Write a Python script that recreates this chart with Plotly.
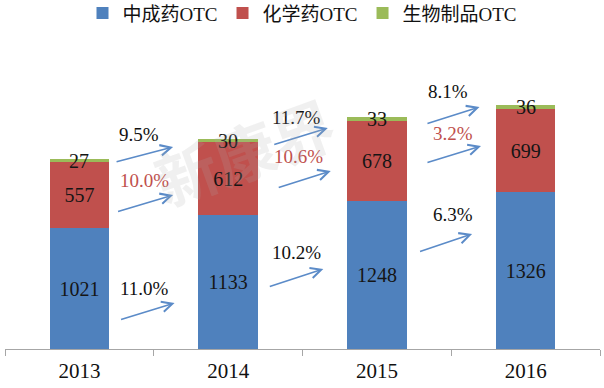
import plotly.graph_objects as go

years = ["2013", "2014", "2015", "2016"]
tcm_otc = [1021, 1133, 1248, 1326]      # 中成药OTC
chem_otc = [557, 612, 678, 699]         # 化学药OTC
bio_otc = [27, 30, 33, 36]              # 生物制品OTC

growth_tcm = ["11.0%", "10.2%", "6.3%"]
growth_chem = ["10.0%", "10.6%", "3.2%"]
growth_bio = ["9.5%", "11.7%", "8.1%"]

BLUE = "#4F81BD"
RED = "#C0504D"
GREEN = "#9BBB59"
ARROW = "#5B8BC8"
SERIF = "Liberation Serif, Noto Sans CJK SC, serif"

fig = go.Figure()
for name, vals, col in [("中成药OTC", tcm_otc, BLUE), ("化学药OTC", chem_otc, RED)]:
    fig.add_trace(go.Bar(
        x=years, y=vals, name=name, marker=dict(color=col, line=dict(width=0)),
        text=vals, texttemplate="%{text}", textposition="inside",
        insidetextanchor="middle",
        textfont=dict(family=SERIF, size=20, color="#151515"),
    ))
fig.add_trace(go.Bar(
    x=years, y=bio_otc, name="生物制品OTC", marker=dict(color=GREEN, line=dict(width=0)),
    textposition="none",
))

annotations = []
# green segment labels
for i, y in enumerate(years):
    annotations.append(dict(
        x=i, y=tcm_otc[i] + chem_otc[i] + bio_otc[i] / 2, xref="x", yref="y",
        text=str(bio_otc[i]), showarrow=False, yanchor="middle",
        font=dict(family=SERIF, size=20, color="#151515"),
    ))

# arrow/label layout (category index offsets, data-unit heights)
arrow_layout = {
    "bio":  dict(labels=growth_bio, color="#111111",
                 text_xy=[(0.40, 1816), (1.46, 1959), (2.48, 2171)],
                 arrows=[((0.24, 1579), (0.63, 1706)), ((1.30, 1723), (1.67, 1867)), ((2.33, 1900), (2.69, 2044))]),
    "chem": dict(labels=growth_chem, color="#C0504D",
                 text_xy=[(0.44, 1427), (1.47, 1622), (2.51, 1824)],
                 arrows=[((0.25, 1157), (0.63, 1301)), ((1.33, 1360), (1.69, 1503)), ((2.33, 1571), (2.70, 1715))]),
    "tcm":  dict(labels=growth_tcm, color="#111111",
                 text_xy=[(0.44, 515), (1.46, 811), (2.51, 1132)],
                 arrows=[((0.27, 245), (0.64, 389)), ((1.27, 524), (1.64, 676)), ((2.28, 819), (2.64, 971))]),
}
for key, spec in arrow_layout.items():
    for lab, (tx, ty), ((x0, y0), (x1, y1)) in zip(spec["labels"], spec["text_xy"], spec["arrows"]):
        annotations.append(dict(
            x=tx, y=ty, xref="x", yref="y", text=lab, showarrow=False,
            font=dict(family=SERIF, size=19, color=spec["color"]),
        ))
        annotations.append(dict(
            x=x1, y=y1, ax=x0, ay=y0, xref="x", yref="y", axref="x", ayref="y",
            text="", showarrow=True, arrowhead=5, arrowsize=1.3, arrowwidth=1.6,
            arrowcolor=ARROW, standoff=0, startstandoff=0,
        ))

# faint watermark
annotations.append(dict(
    x=1.11, y=1680, xref="x", yref="y", text="<b>新康界</b>", showarrow=False,
    textangle=-20, font=dict(family="Noto Sans CJK SC", size=62, color="rgba(170,170,170,0.18)"),
))

fig.update_layout(
    width=604, height=388,
    barmode="stack", bargap=0.6,
    margin=dict(l=5, r=4, t=40, b=39, autoexpand=False),
    paper_bgcolor="white", plot_bgcolor="white",
    font=dict(family=SERIF, color="#111111"),
    showlegend=True,
    legend=dict(orientation="h", x=0.5, xanchor="center", y=1.148, yanchor="top",
                font=dict(family=SERIF, size=19, color="#111111"),
                traceorder="normal", itemwidth=30, bgcolor="rgba(0,0,0,0)"),
    xaxis=dict(type="category", categoryorder="array", categoryarray=years,
               range=[-0.5, 3.5], showline=True, linecolor="#A6A6A6", linewidth=1,
               ticks="outside", tickson="boundaries", ticklen=6, tickcolor="#A6A6A6",
               tickfont=dict(family=SERIF, size=21, color="#111111"),
               showgrid=False, zeroline=False, ticklabelstandoff=3, automargin=False),
    yaxis=dict(range=[0, 2610], visible=False, showgrid=False, zeroline=False),
    annotations=annotations,
)

fig.write_html("out.html", config={"displayModeBar": False},
               post_script="document.body.style.margin='0';")
